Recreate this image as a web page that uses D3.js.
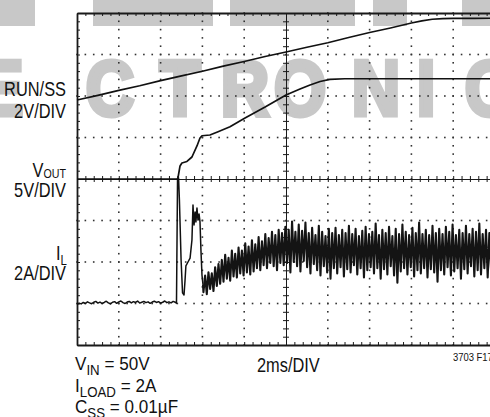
<!DOCTYPE html>
<html><head><meta charset="utf-8">
<script src="https://cdn.jsdelivr.net/npm/d3@7"></script>
<style>
html,body{margin:0;padding:0;background:#fff;}
svg{display:block;}
.lbl{font-family:"Liberation Sans",Arial,sans-serif;fill:#111;}
</style></head><body>
<svg id="c" width="490" height="417"></svg>
<script>
// ---------- DATA ----------
// time axis: 2 ms/DIV, 10 divisions
const timeRangeMs = [0, 20];
const verticalDivs = [0, 8];

// RUN/SS channel (2 V/DIV, ground at division 4)
const runssTime  = [0, 1, 2, 3, 4, 5, 6, 7, 8, 9, 10, 11, 12, 13, 14, 15, 16, 16.5, 17, 17.5, 18, 19, 20];
const runssVolts = [3.81, 4.03, 4.27, 4.49, 4.74, 4.97, 5.19, 5.44, 5.66, 5.90, 6.12, 6.35, 6.57, 6.82, 7.06, 7.28, 7.52, 7.62, 7.70, 7.73, 7.74, 7.74, 7.75];

// VOUT channel (5 V/DIV, ground at division 4)
const voutTime  = [0, 4.78, 4.83, 4.93, 5.02, 5.26, 5.50, 5.74, 5.885, 5.98, 6.36, 6.75, 7.32, 8.04, 9.0, 10.0, 10.67, 11.15, 11.63, 12.1, 12.82, 20];
const voutVolts = [0, 0, 0.12, 1.57, 1.93, 2.11, 2.65, 3.98, 4.94, 5.21, 5.30, 5.70, 6.30, 7.35, 8.67, 10.12, 10.84, 11.33, 11.75, 12.0, 12.08, 12.08];

// IL channel (2 A/DIV, zero at division 1)
// before start-up: sampled every 0.1 ms from 0 ms
const ilPreStartMs = 0, ilPreStepMs = 0.1;
const ilPreAmps = [-0.04, 0.02, -0.02, 0.05, 0.00, 0.08, 0.03, -0.01, 0.06, 0.10, 0.02, 0.07, 0.00, 0.05, 0.11, 0.03, -0.02, 0.06, 0.09, 0.01, 0.08, 0.12, 0.04, 0.00, 0.07, 0.10, 0.03, 0.09, 0.05, 0.12, 0.02, 0.06, 0.10, 0.04, 0.08, 0.01, 0.07, 0.11, 0.05, 0.09, 0.02, 0.06, 0.12, 0.04, 0.08, 0.03, 0.10, 0.06];
// start-up transient
const ilSpikeTime = [4.76, 4.81, 4.86, 4.90, 4.98, 5.05, 5.12, 5.17, 5.21, 5.31, 5.41, 5.50, 5.55, 5.60, 5.65, 5.69, 5.74, 5.79, 5.84, 5.885, 5.93, 5.98, 6.03];
const ilSpikeAmps = [0.02, 5.95, 6.05, 4.99, 2.10, 0.51, 0.41, 1.13, 1.81, 2.00, 2.19, 3.06, 4.75, 3.78, 4.41, 3.93, 4.60, 4.02, 4.31, 3.93, 2.58, 1.37, 0.89];
// switching ripple after start-up: sampled every 0.08 ms from 6.05 ms
const ilRunStartMs = 6.05, ilRunStepMs = 0.08;
const ilRunAmps = [
 0.55, 1.35, 0.45, 1.50, 0.70, 1.45, 0.60, 1.75, 0.85, 1.90, 0.95, 2.10,
 1.05, 2.35, 1.20, 2.20, 1.10, 2.55, 1.30, 2.40, 1.25, 2.70, 1.45, 2.55, 1.35, 2.90, 1.50, 2.75,
 1.40, 3.05, 1.55, 2.85, 1.70, 3.20, 1.60, 3.00, 1.85, 3.35, 1.70, 3.15, 1.95, 3.45, 1.80, 3.30,
 1.60, 3.55, 1.95, 3.40, 1.85, 3.70,
 1.95, 3.55, 1.50, 3.95, 2.00, 3.45, 1.80, 3.80, 1.55, 3.50, 2.05, 3.90, 1.75, 3.40, 1.45, 3.65,
 1.90, 3.30, 1.60, 3.75, 1.35, 3.45, 1.80, 3.25, 1.50, 3.60, 1.20, 3.40, 1.70, 3.65, 1.45, 3.30,
 1.75, 3.55, 1.30, 3.40, 1.65, 3.75, 1.50, 3.35, 1.85, 3.60, 1.40, 3.25, 1.70, 3.50, 1.25, 3.70,
 1.60, 3.35,
 1.75, 3.45, 1.45, 3.85, 1.70, 3.30, 1.20, 3.55, 1.65, 3.40, 1.40, 3.70, 1.80, 3.25, 1.35, 3.60,
 1.00, 3.35, 1.55, 3.80, 1.70, 3.45, 1.40, 3.30, 1.75, 3.65, 1.30, 3.40, 1.60, 3.90, 1.45, 3.35,
 1.70, 3.55, 1.25, 3.30, 1.65, 3.75, 1.50, 3.40, 1.05, 3.60, 1.60, 3.35, 1.40, 3.70, 1.75, 3.45,
 1.35, 3.80, 1.55, 3.30, 1.70, 3.55, 1.20, 3.40, 1.65, 3.75, 1.45, 3.35, 1.80, 3.60, 1.30, 3.45,
 1.60, 3.85, 1.40, 3.35, 1.70, 3.55, 1.25, 3.40, 1.60, 3.70, 1.50
];

// channel scaling: [division of zero level, units per division]
const runssScale = [4, 2];
const voutScale  = [4, 5];
const ilScale    = [1, 2];

// text
const channelLabels = ["RUN/SS", "2V/DIV", "V", "OUT", "5V/DIV", "I", "L", "2A/DIV"];
const timebaseLabel = "2ms/DIV";
const figureId = "3703 F17";
const watermarkLetters = ["E", "C", "T", "R", "O", "N", "I", "C"];

// ---------- DRAWING ----------
const svg = d3.select("#c");
const x = d3.scaleLinear().domain(timeRangeMs).range([77, 495]);
const y = d3.scaleLinear().domain(verticalDivs).range([345, 13]);

// watermark (background)
const wm = svg.append("g").attr("fill", "#c8c8c8");
[[0,35],[93,213],[230,355],[373,407],[462,490]].forEach(([a,b]) =>
  wm.append("rect").attr("x", a).attr("y", 0).attr("width", b - a).attr("height", 26));
const wmCenters = [1, 110, 180, 245, 300, 376, 426, 489];
watermarkLetters.forEach((ch, i) => {
  wm.append("text").attr("transform", `translate(${wmCenters[i]},115) scale(0.86,1)`)
    .attr("text-anchor", "middle")
    .attr("stroke", "#c8c8c8").attr("stroke-width", 5).attr("stroke-linejoin", "miter")
    .style("font-family", "'Liberation Sans',Arial,sans-serif").style("font-weight", "bold")
    .style("font-size", "78px").text(ch);
});

// dotted graticule
const grid = svg.append("g").attr("fill", "#333");
const vLines = d3.range(1, 10).filter(k => k !== 5).map(k => k * 2);
const hLines = d3.range(1, 8).filter(k => k !== 4);
vLines.forEach(t => {
  d3.range(0, 8.001, 0.2).forEach(d => grid.append("rect")
    .attr("x", x(t) - 0.8).attr("y", y(d) - 0.8).attr("width", 1.6).attr("height", 1.6));
});
hLines.forEach(d => {
  d3.range(0, 20.001, 0.4).forEach(t => grid.append("rect")
    .attr("x", x(t) - 0.8).attr("y", y(d) - 0.8).attr("width", 1.6).attr("height", 1.6));
});

const minorT = d3.range(0, 20.001, 0.4);
const minorD = d3.range(0, 8.001, 0.2);
function styleAxis(g, w) {
  g.selectAll("text").remove();
  g.selectAll("path.domain").attr("stroke", "#1a1a1a").attr("stroke-width", w);
  g.selectAll(".tick line").attr("stroke", "#1a1a1a").attr("stroke-width", 1);
}
// centre axes with cross ticks
svg.append("g").attr("transform", `translate(0,${y(4)})`)
  .call(d3.axisBottom(x).tickValues(minorT).tickSizeInner(3).tickSizeOuter(0).tickFormat(""))
  .call(g => styleAxis(g, 1));
svg.append("g").attr("transform", `translate(0,${y(4)})`)
  .call(d3.axisTop(x).tickValues(minorT).tickSizeInner(3).tickSizeOuter(0).tickFormat(""))
  .call(g => styleAxis(g, 1));
svg.append("g").attr("transform", `translate(${x(10)},0)`)
  .call(d3.axisLeft(y).tickValues(minorD).tickSizeInner(3).tickSizeOuter(0).tickFormat(""))
  .call(g => styleAxis(g, 1));
svg.append("g").attr("transform", `translate(${x(10)},0)`)
  .call(d3.axisRight(y).tickValues(minorD).tickSizeInner(3).tickSizeOuter(0).tickFormat(""))
  .call(g => styleAxis(g, 1));
// border with inward ticks
svg.append("g").attr("transform", `translate(0,${y(0)})`)
  .call(d3.axisBottom(x).tickValues(minorT).tickSizeInner(-3).tickSizeOuter(0).tickFormat(""))
  .call(g => styleAxis(g, 1.8));
svg.append("g").attr("transform", `translate(0,${y(8)})`)
  .call(d3.axisTop(x).tickValues(minorT).tickSizeInner(-3).tickSizeOuter(0).tickFormat(""))
  .call(g => styleAxis(g, 1.8));
svg.append("g").attr("transform", `translate(${x(0)},0)`)
  .call(d3.axisLeft(y).tickValues(minorD).tickSizeInner(-3).tickSizeOuter(0).tickFormat(""))
  .call(g => styleAxis(g, 1.8));

// traces
const toDiv = (v, sc) => sc[0] + v / sc[1];
const line = d3.line().x(d => x(d[0])).y(d => y(d[1]));
const traces = svg.append("g").attr("fill", "none").attr("stroke", "#111").attr("stroke-linejoin", "round");

const runssPts = runssTime.map((t, i) => [t, toDiv(runssVolts[i], runssScale)]);
const voutPts = voutTime.map((t, i) => [t, toDiv(voutVolts[i], voutScale)]);
const ilStartPts = []
  .concat(ilPreAmps.map((a, i) => [ilPreStartMs + i * ilPreStepMs, toDiv(a, ilScale)]))
  .concat(ilSpikeTime.map((t, i) => [t, toDiv(ilSpikeAmps[i], ilScale)]));
const ilRunPts = [ilStartPts[ilStartPts.length - 1]]
  .concat(ilRunAmps.map((a, i) => [ilRunStartMs + i * ilRunStepMs, toDiv(a, ilScale)]));

traces.append("path").attr("d", line(runssPts)).attr("stroke-width", 1.6);
traces.append("path").attr("d", line(voutPts)).attr("stroke-width", 1.7);
traces.append("path").attr("d", line(ilStartPts)).attr("stroke-width", 1.5);
traces.append("path").attr("d", line(ilRunPts)).attr("stroke-width", 2.1).attr("stroke", "#141414");

// labels
const L = svg.append("g");
function label(xp, yp, anchor, size, sx, parts) {
  const t = L.append("text").attr("class", "lbl")
    .attr("transform", `translate(${xp},${yp}) scale(${sx},1)`)
    .attr("text-anchor", anchor).style("font-size", size + "px");
  parts.forEach(p => t.append("tspan").attr("dy", p[1]).style("font-size", (p[2] || size) + "px").text(p[0]));
  return t;
}
label(66, 96, "end", 20, 0.82, [[channelLabels[0], 0]]);
label(66, 118, "end", 20, 0.82, [[channelLabels[1], 0]]);
label(66, 177, "end", 20, 0.82, [[channelLabels[2], 0], [channelLabels[3], 1, 13]]);
label(66, 197, "end", 20, 0.82, [[channelLabels[4], 0]]);
label(67, 260, "end", 20, 0.82, [[channelLabels[5], 0], [channelLabels[6], 5, 14]]);
label(66, 280, "end", 20, 0.82, [[channelLabels[7], 0]]);
label(75, 370, "start", 18, 0.95, [["V", 0], ["IN", 5, 14], [" = 50V", -5]]);
label(75, 392, "start", 18, 0.95, [["I", 0], ["LOAD", 5, 14], [" = 2A", -5]]);
label(75, 413, "start", 18, 0.95, [["C", 0], ["SS", 5, 14], [" = 0.01µF", -5]]);
label(257, 372, "start", 20, 0.82, [[timebaseLabel, 0]]);
label(453, 361, "start", 10.5, 0.9, [[figureId, 0]]);
</script>
</body></html>
